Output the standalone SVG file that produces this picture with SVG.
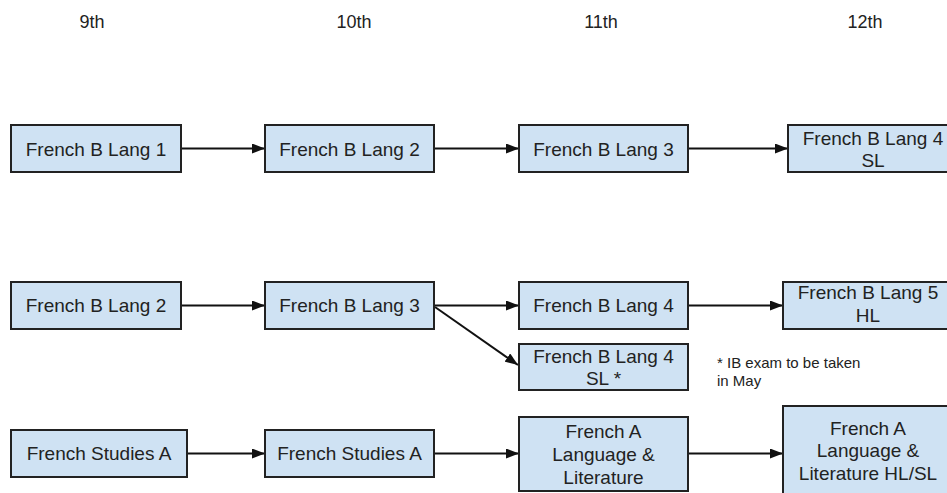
<svg xmlns="http://www.w3.org/2000/svg" width="947" height="493" viewBox="0 0 947 493">
<defs>
<marker id="ah" viewBox="0 0 13 10" refX="13" refY="5" markerWidth="13" markerHeight="10" markerUnits="userSpaceOnUse" orient="auto">
<path d="M0,0 L13,5 L0,10 z" fill="#111"/>
</marker>
<style>
.box{fill:#cfe2f3;stroke:#222;stroke-width:2}
.t{font-family:"Liberation Sans",Arial,sans-serif;font-size:19px;fill:#222;text-anchor:middle}
.h{font-family:"Liberation Sans",Arial,sans-serif;font-size:18px;fill:#222;text-anchor:middle}
.n{font-family:"Liberation Sans",Arial,sans-serif;font-size:15px;fill:#222}
.c{stroke:#111;stroke-width:2;fill:none;marker-end:url(#ah)}
</style>
</defs>
<rect width="947" height="493" fill="#fff"/>
<g id="headings">
<text class="h" x="92" y="28">9th</text>
<text class="h" x="354" y="28">10th</text>
<text class="h" x="601" y="28">11th</text>
<text class="h" x="865" y="28">12th</text>
</g>
<g id="connectors">
<line class="c" x1="181" y1="148.5" x2="265" y2="148.5"/>
<line class="c" x1="434" y1="148.5" x2="519" y2="148.5"/>
<line class="c" x1="688" y1="148.5" x2="788" y2="148.5"/>
<line class="c" x1="181" y1="305.5" x2="265" y2="305.5"/>
<line class="c" x1="434" y1="305.5" x2="519" y2="305.5"/>
<line class="c" x1="688" y1="305.5" x2="783" y2="305.5"/>
<line class="c" x1="435" y1="307" x2="518" y2="365"/>
<line class="c" x1="187" y1="453.5" x2="265" y2="453.5"/>
<line class="c" x1="434" y1="453.5" x2="519" y2="453.5"/>
<line class="c" x1="688" y1="453.5" x2="783" y2="453.5"/>
</g>
<g id="n1"><rect class="box" x="11" y="125" width="170" height="47"/><text class="t" x="96" y="156">French B Lang 1</text></g>
<g id="n2"><rect class="box" x="265" y="125" width="169" height="47"/><text class="t" x="349.5" y="156">French B Lang 2</text></g>
<g id="n3"><rect class="box" x="519" y="125" width="169" height="47"/><text class="t" x="603.5" y="156">French B Lang 3</text></g>
<g id="n4"><rect class="box" x="788" y="125" width="170" height="47"/><text class="t" x="873" y="145">French B Lang 4</text><text class="t" x="873" y="167">SL</text></g>
<g id="n5"><rect class="box" x="11" y="282" width="170" height="47"/><text class="t" x="96" y="312">French B Lang 2</text></g>
<g id="n6"><rect class="box" x="265" y="282" width="169" height="47"/><text class="t" x="349.5" y="312">French B Lang 3</text></g>
<g id="n7"><rect class="box" x="519" y="282" width="169" height="47"/><text class="t" x="603.5" y="312">French B Lang 4</text></g>
<g id="n8"><rect class="box" x="783" y="282" width="170" height="47"/><text class="t" x="868" y="299">French B Lang 5</text><text class="t" x="868" y="322">HL</text></g>
<g id="n9"><rect class="box" x="519" y="344" width="169" height="46"/><text class="t" x="603.5" y="363">French B Lang 4</text><text class="t" x="603.5" y="385">SL *</text></g>
<g id="note"><text class="n" x="717" y="368">* IB exam to be taken</text><text class="n" x="717" y="386">in May</text></g>
<g id="n10"><rect class="box" x="11" y="430" width="176" height="47"/><text class="t" x="99" y="460">French Studies A</text></g>
<g id="n11"><rect class="box" x="265" y="430" width="169" height="47"/><text class="t" x="349.5" y="460">French Studies A</text></g>
<g id="n12"><rect class="box" x="519" y="417" width="169" height="74"/><text class="t" x="603.5" y="438">French A</text><text class="t" x="603.5" y="461">Language &amp;</text><text class="t" x="603.5" y="484">Literature</text></g>
<g id="n13"><rect class="box" x="783" y="406" width="170" height="95"/><text class="t" x="868" y="435">French A</text><text class="t" x="868" y="457">Language &amp;</text><text class="t" x="868" y="480">Literature HL/SL</text></g>
</svg>
